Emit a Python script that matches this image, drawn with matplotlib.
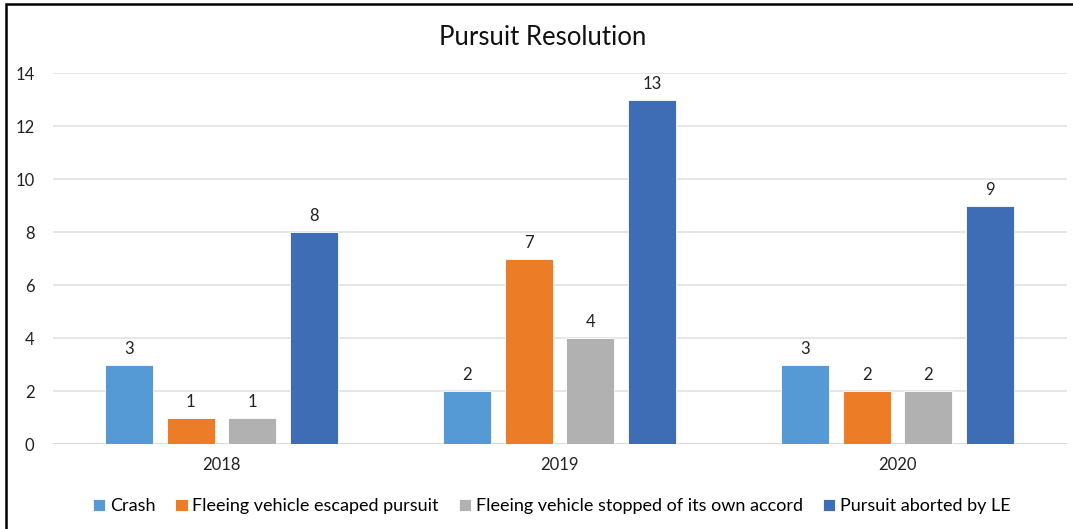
import numpy as np
import matplotlib
matplotlib.use('Agg')
import matplotlib.pyplot as plt
from matplotlib.patches import Rectangle

plt.rcParams['font.family'] = ['Lato', 'DejaVu Sans']

years = ['2018', '2019', '2020']
series = ['Crash', 'Fleeing vehicle escaped pursuit',
          'Fleeing vehicle stopped of its own accord', 'Pursuit aborted by LE']
crash = [3, 2, 3]
escaped = [1, 7, 2]
stopped = [1, 4, 2]
aborted = [8, 13, 9]
colors = ['#559AD5', '#EC7C26', '#B1B1B1', '#3E6DB5']

fig = plt.figure(figsize=(10.73, 5.29), dpi=100)
ax = fig.add_axes([0.049, 0.16, 0.945, 0.702])

x = np.arange(len(years))
width = 0.142
pitch = 0.182
for i, (name, vals) in enumerate(zip(series, [crash, escaped, stopped, aborted])):
    pos = x + (i - 1.5) * pitch
    bars = ax.bar(pos, vals, width, color=colors[i], label=name,
                  edgecolor='white', linewidth=0.6, zorder=3)
    for b, v in zip(bars, vals):
        ax.text(b.get_x() + b.get_width() / 2, v + 0.3, str(v),
                ha='center', va='bottom', fontsize=12, color='#222222')

ax.set_xlim(-0.5, 2.5)
ax.set_ylim(0, 14)
ax.set_yticks(range(0, 15, 2))
ax.set_xticks(x)
ax.set_xticklabels(years)
ax.yaxis.grid(True, color='#E2E2E2', linewidth=1.2, zorder=0)
ax.tick_params(axis='both', length=0, labelsize=12, colors='#222222')
ax.tick_params(axis='y', pad=13)
ax.tick_params(axis='x', pad=9)
for s in ax.spines.values():
    s.set_visible(False)
ax.axhline(0, color='#D9D9D9', linewidth=1.2, zorder=2)

fig.text(0.506, 0.93, 'Pursuit Resolution', ha='center', va='center',
         fontsize=18.5, color='#111111')

fig.legend(loc='center', bbox_to_anchor=(0.514, 0.043), ncol=4, frameon=False,
           fontsize=13, handlelength=0.7, handleheight=0.7,
           handletextpad=0.25, columnspacing=1.1)

# outer chart border
fig.add_artist(Rectangle((0.006, -0.05), 1.5, 1.042, transform=fig.transFigure,
                         fill=False, edgecolor='black', linewidth=1.8))

fig.savefig('out.png', dpi=100)
